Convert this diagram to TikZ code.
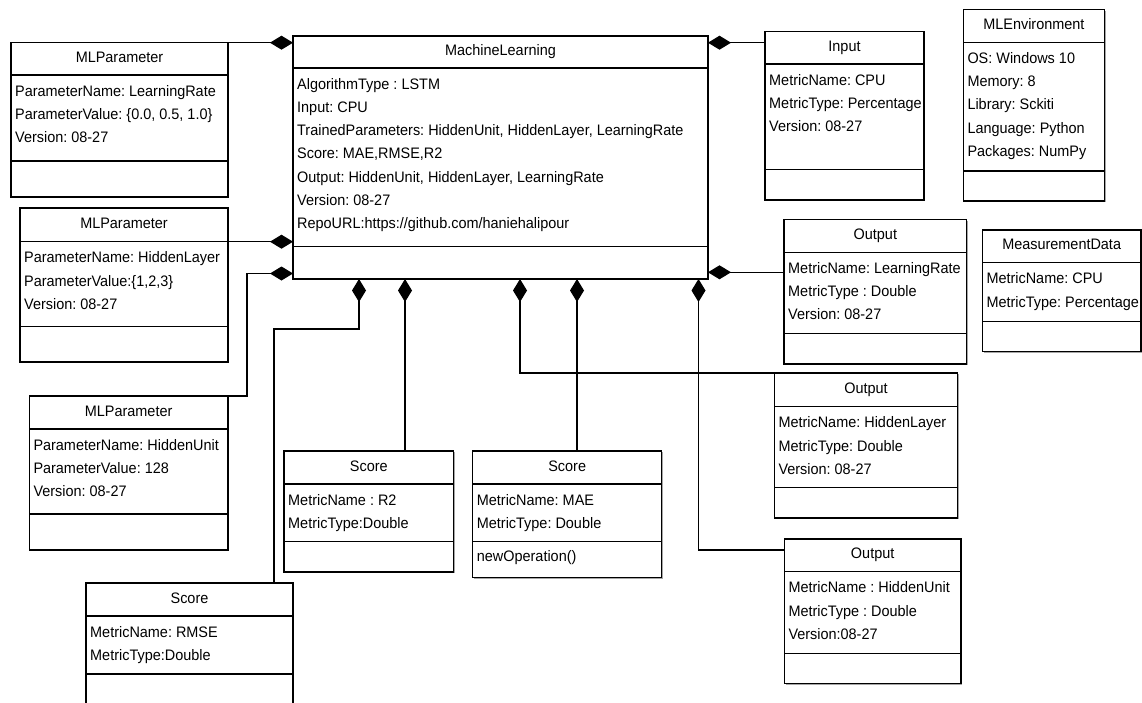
\documentclass[tikz,border=0pt]{standalone}
\usepackage{fontspec}
\setmainfont[FakeStretch=0.95]{Liberation Sans}
\usetikzlibrary{arrows.meta,calc,shadows}
\frenchspacing

\tikzset{
  classbox/.style={draw, fill=white, line width=1.1pt, inner sep=0pt, outer sep=0pt,
    drop shadow={shadow xshift=1.2pt, shadow yshift=-1.2pt, fill=black!35, opacity=1}},
  boxline/.style={line width=1.1pt},
  txt/.style={inner sep=0pt, font=\fontsize{15.2}{17}\selectfont},
  comp/.style={draw, line width=1.1pt, {Diamond[length=23pt,width=14pt]}-},
}

% UML class box: name, x1, y1, x2, y2, title divider y, attribute divider y, title, attributes
\newcommand\umlclass[9]{%
  \node[classbox, minimum width={(#4)-(#2)}, minimum height={(#5)-(#3)}, anchor=north west] (#1) at (#2,#3) {};
  \coordinate (#1-tl) at (#2,#6);
  \coordinate (#1-tr) at (#4,#6);
  \coordinate (#1-al) at (#2,#7);
  \coordinate (#1-ar) at (#4,#7);
  \draw[boxline] (#1-tl) -- (#1-tr);
  \draw[boxline] (#1-al) -- (#1-ar);
  \node[txt, anchor=base] (#1-title) at ({((#2)+(#4))/2},{(#6)-13}) {#8};
  \foreach \t [count=\i from 0] in {#9}
    \node[txt, anchor=base west] (#1-a\i) at ({(#2)+4},{(#6)+21+23.3*\i}) {\t};
}

\begin{document}
\begin{tikzpicture}[x=1pt, y=-1pt]
  \useasboundingbox (0,0) rectangle (1142,702);
  \fill[white] (0,0) rectangle (1142,702);
  \clip (0,0) rectangle (1142,702);

  % central class
  \umlclass{ml}{293}{36}{708}{279}{68}{246.7}{MachineLearning}
    {AlgorithmType : LSTM, Input: CPU,
     {TrainedParameters: HiddenUnit, HiddenLayer, LearningRate},
     {Score: MAE,RMSE,R2},
     {Output: HiddenUnit, HiddenLayer, LearningRate},
     Version: 08-27, RepoURL:https://github.com/haniehalipour}

  % parameters
  \umlclass{pa}{11}{42.7}{228}{197}{75}{161}{MLParameter}
    {ParameterName: LearningRate, {ParameterValue: \{0.0, 0.5, 1.0\}}, Version: 08-27}
  \umlclass{pb}{20}{208}{228}{362}{241.7}{326.7}{MLParameter}
    {ParameterName: HiddenLayer, {ParameterValue:\{1,2,3\}}, Version: 08-27}
  \umlclass{pc}{29.3}{396}{228}{550}{429}{514}{MLParameter}
    {ParameterName: HiddenUnit, ParameterValue: 128, Version: 08-27}

  % scores
  \umlclass{rmse}{86}{583}{293}{730}{616}{674}{Score}
    {MetricName: RMSE, MetricType:Double}
  \umlclass{rtwo}{284}{451}{453.7}{572}{484}{541.7}{Score}
    {MetricName : R2, MetricType:Double}
  \umlclass{mae}{472.7}{451}{661.7}{577.7}{484}{541.7}{Score}
    {MetricName: MAE, MetricType: Double}
  \node[txt, anchor=base west] (mae-op) at ($(mae-al)+(4,20)$) {newOperation()};

  % input, environment, data
  \umlclass{inp}{765}{31.7}{924}{200}{64}{169.5}{Input}
    {MetricName: CPU, MetricType: Percentage, Version: 08-27}
  \umlclass{env}{963.3}{9.3}{1104.5}{201}{42.3}{171}{MLEnvironment}
    {OS: Windows 10, Memory: 8, Library: Sckiti, Language: Python, Packages: NumPy}
  \umlclass{md}{982.3}{230}{1141}{351.7}{262.7}{321.7}{MeasurementData}
    {MetricName: CPU, MetricType: Percentage}

  % outputs
  \umlclass{olr}{784}{219.3}{966.7}{364}{252.3}{333.3}{Output}
    {MetricName: LearningRate, MetricType : Double, Version: 08-27}
  \umlclass{ohl}{774.3}{373}{957.7}{518}{406.7}{487.7}{Output}
    {MetricName: HiddenLayer, MetricType: Double, Version: 08-27}
  \umlclass{ohu}{784.3}{539}{961}{683.3}{571.7}{653.3}{Output}
    {MetricName : HiddenUnit, MetricType : Double, Version:08-27}

  % attachment points on the central class
  \coordinate (mlL3) at ($(ml.south west)+(0,-5.5)$);
  \coordinate (mlB1) at ($(ml.south west)+(66,0)$);
  \coordinate (mlB2) at ($(ml.south west)+(112,0)$);
  \coordinate (mlB3) at ($(ml.south west)+(227,0)$);
  \coordinate (mlB4) at ($(ml.south west)+(284,0)$);
  \coordinate (mlB5) at ($(ml.south west)+(405.5,0)$);
  % attachment points on the parts
  \coordinate (pcKnee) at ($(pc.north east)+(19,0)$);
  \coordinate (rmseIn) at ($(rmse.north east)+(-19,0)$);
  \coordinate (inpIn) at ($(inp.north west)+(0,11)$);
  \coordinate (olrIn) at ($(olr-tl)+(0,20)$);
  \coordinate (ohuIn) at ($(ohu.north west)+(0,11)$);

  % compositions
  \draw[comp] (ml.west |- pa.north east) -- (pa.north east);
  \draw[comp] (ml.west |- pb-tr) -- (pb-tr);
  \draw[comp] (mlL3) -| (pcKnee) -- (pc.north east);
  \draw[comp] (mlB1) -- ++(0,50) -| (rmseIn);
  \draw[comp] (mlB2) -- (mlB2 |- rtwo.north);
  \draw[comp] (mlB3) |- (ohl.north west);
  \draw[comp] (mlB4) -- (mlB4 |- mae.north);
  \draw[comp] (mlB5) |- (ohuIn);
  \draw[comp] (ml.east |- inpIn) -- (inpIn);
  \draw[comp] (ml.east |- olrIn) -- (olrIn);
\end{tikzpicture}
\end{document}
